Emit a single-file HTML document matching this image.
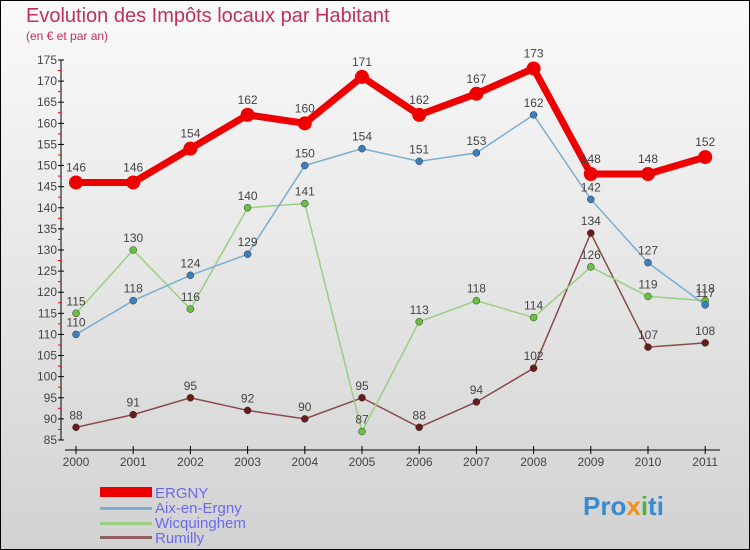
<!DOCTYPE html>
<html><head><meta charset="utf-8"><style>
body{margin:0}
#c{width:750px;height:550px;position:relative;box-sizing:border-box;border:1px solid #000;background:linear-gradient(#fafafa,#d2d2d2);font-family:"Liberation Sans",sans-serif;overflow:hidden}
</style></head><body>
<div id="c">
<svg id="s" width="750" height="550" style="position:absolute;left:-1px;top:-1px">
<text x="26" y="22" font-size="20" fill="#c0305a">Evolution des Impôts locaux par Habitant</text>
<text x="26" y="40" font-size="12" fill="#c0305a">(en € et par an)</text>
<g id="axes"></g><g id="series"></g>
<g>
<rect x="100" y="487" width="52" height="10" fill="#e00"/>
<text x="155" y="498" font-size="15" fill="#6a6aee">ERGNY</text>
<rect x="100" y="507" width="52" height="3" fill="#7aaed0"/>
<text x="155" y="513" font-size="15" fill="#6a6aee">Aix-en-Ergny</text>
<rect x="100" y="522" width="52" height="3" fill="#9ad080"/>
<text x="155" y="528" font-size="15" fill="#6a6aee">Wicquinghem</text>
<rect x="100" y="536" width="52" height="3" fill="#906060"/>
<text x="155" y="543" font-size="15" fill="#6a6aee">Rumilly</text>
</g>
<text x="583" y="515" font-size="26" font-weight="bold" fill="#3a8ad0">Pro<tspan fill="#f09020">x</tspan><tspan fill="#50b040">i</tspan>ti</text>
</svg>
</div>
<script>
const years=[2000,2001,2002,2003,2004,2005,2006,2007,2008,2009,2010,2011];
const yTicks=[85,90,95,100,105,110,115,120,125,130,135,140,145,150,155,160,165,170,175];
const ergny=[146,146,154,162,160,171,162,167,173,148,148,152];
const aix=[110,118,124,129,150,154,151,153,162,142,127,117];
const wicq=[115,130,116,140,141,87,113,118,114,126,119,118];
const rumilly=[88,91,95,92,90,95,88,94,102,134,107,108];
const NS="http://www.w3.org/2000/svg";
const X=i=>76+i*57.2;
const Y=v=>60+(175-v)*4.222;
function mk(tag,attrs,parent){const e=document.createElementNS(NS,tag);for(const k in attrs)e.setAttribute(k,attrs[k]);parent.appendChild(e);return e;}
const ax=document.getElementById('axes');
let l=mk('line',{x1:61,y1:60,x2:61,y2:440,stroke:'#000'},ax);


l=mk('line',{x1:65,y1:450,x2:720,y2:450,stroke:'#000'},ax);


yTicks.forEach(v=>{
 mk('line',{x1:58,y1:Y(v),x2:64,y2:Y(v),stroke:'#000'},ax);
 if(v<175)mk('line',{x1:58,y1:Y(v+2.5),x2:61,y2:Y(v+2.5),stroke:'#e00'},ax);
 const t=mk('text',{x:57,y:Y(v)+4,'font-size':12,fill:'#444','text-anchor':'end'},ax);t.textContent=v;
 
 
});
years.forEach((y,i)=>{
 mk('line',{x1:X(i),y1:446,x2:X(i),y2:454,stroke:'#000'},ax);
 const t=mk('text',{x:X(i),y:466,'font-size':12,fill:'#444','text-anchor':'middle'},ax);t.textContent=y;
 
 
});
const sg=document.getElementById('series');
function series(data,color,dot,w,r,name){
 const g=mk('g',{},sg);
 
 
 const p=mk('polyline',{points:data.map((v,i)=>X(i)+','+Y(v)).join(' '),fill:'none',stroke:color,'stroke-width':w},g);
 
 
 data.forEach((v,i)=>{
  const c=mk('circle',{cx:X(i),cy:Y(v),r:r,fill:dot,stroke:r>4?'none':'#333','stroke-width':0.5},g);
  
  
  const t=mk('text',{x:X(i),y:Y(v)-(r>4?11:8),'font-size':12,fill:'#444','text-anchor':'middle'},g);t.textContent=v;
  
  
 });
}
series(rumilly,'#8a4a4a','#6a1a1a',1.5,3.5,'rumilly');
series(wicq,'#9ad080','#6ac040',1.5,3.5,'wicquinghem');
series(aix,'#7aaed0','#3a80c0',1.5,3.5,'aix-en-ergny');
series(ergny,'#e00','#e00',7,7,'ergny');
</script>
</body></html>
